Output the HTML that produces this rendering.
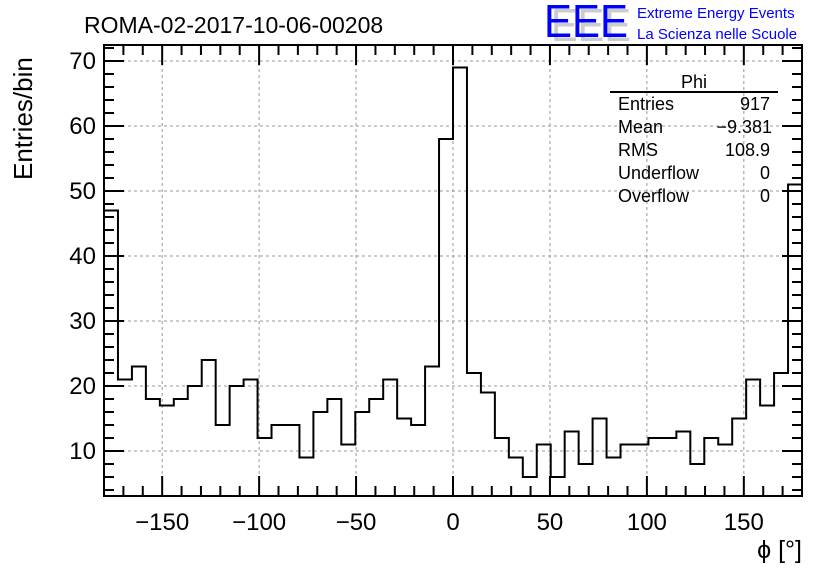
<!DOCTYPE html>
<html><head><meta charset="utf-8"><style>
body{margin:0;background:#fff;}
svg text{font-family:"Liberation Sans",sans-serif;}
</style></head><body>
<svg id="chart" width="836" height="572" viewBox="0 0 836 572" xmlns="http://www.w3.org/2000/svg">
<rect width="836" height="572" fill="#fff"/>
<g id="grid"></g>
<g id="hist"></g>
<g id="axes"></g>
<text x="84" y="33" font-size="23">ROMA-02-2017-10-06-00208</text>
<g>
<text x="551" y="41" font-size="46" fill="#ccc" textLength="80" lengthAdjust="spacingAndGlyphs">EEE</text>
<text x="544" y="37" font-size="46" fill="#0000ff" textLength="84" lengthAdjust="spacingAndGlyphs">EEE</text>
<text x="637" y="18" font-size="15" fill="#0000ff">Extreme Energy Events</text>
<text x="637" y="39" font-size="15" fill="#0000ff">La Scienza nelle Scuole</text>
</g>
<g font-size="18">
<text x="694" y="88" text-anchor="middle">Phi</text>
<line x1="610" y1="92" x2="778" y2="92" stroke="#000" stroke-width="2"/>
<text x="618" y="110">Entries</text><text x="770" y="110" text-anchor="end">917</text>
<text x="618" y="133">Mean</text><text x="772" y="133" text-anchor="end">−9.381</text>
<text x="618" y="156">RMS</text><text x="770" y="156" text-anchor="end">108.9</text>
<text x="618" y="179">Underflow</text><text x="770" y="179" text-anchor="end">0</text>
<text x="618" y="202">Overflow</text><text x="770" y="202" text-anchor="end">0</text>
</g>
<text x="0" y="0" font-size="26" transform="translate(32,180) rotate(-90)">Entries/bin</text>
<text x="802" y="558" font-size="25" text-anchor="end">ϕ [°]</text>
</svg>
<script>
const counts=[47,21,23,18,17,18,20,24,14,20,21,12,14,14,9,16,18,11,16,18,21,15,14,23,58,69,22,19,12,9,6,11,6,13,8,15,9,11,11,12,12,13,8,12,11,15,21,17,22,51];
const xTicks=[-150,-100,-50,0,50,100,150];
const yTicks=[10,20,30,40,50,60,70];
const xMin=-180,xMax=180,yMin=3.08,yMax=72.46;
const L=104,R=802,T=45,B=496;
const ns="http://www.w3.org/2000/svg";
function sx(v){return L+(v-xMin)/(xMax-xMin)*(R-L);}
function sy(v){return B-(v-yMin)/(yMax-yMin)*(B-T);}
function mk(tag,attrs,parent){const e=document.createElementNS(ns,tag);for(const k in attrs)e.setAttribute(k,attrs[k]);parent.appendChild(e);return e;}
const grid=document.getElementById('grid'),hist=document.getElementById('hist'),axes=document.getElementById('axes');
xTicks.forEach(v=>{const l=mk('line',{x1:sx(v),x2:sx(v),y1:T,y2:B,stroke:'#999','stroke-dasharray':'3,3','stroke-width':1},grid);

});
yTicks.forEach(v=>{const l=mk('line',{x1:L,x2:R,y1:sy(v),y2:sy(v),stroke:'#999','stroke-dasharray':'3,3','stroke-width':1},grid);

});
const w=(xMax-xMin)/counts.length;
let d='M'+sx(xMin)+','+B;
counts.forEach((c,i)=>{const y=sy(c);d+=' L'+sx(xMin+i*w)+','+y+' L'+sx(xMin+(i+1)*w)+','+y;});
d+=' L'+sx(xMax)+','+B;
const p=mk('path',{d:d,fill:'none',stroke:'#000','stroke-width':2},hist);


const f=mk('rect',{x:L,y:T,width:R-L,height:B-T,fill:'none',stroke:'#000','stroke-width':2},axes);


for(let v=-170;v<=170;v+=10){const maj=v%50===0;const len=maj?20:10;
mk('line',{x1:sx(v),x2:sx(v),y1:B,y2:B-len,stroke:'#000','stroke-width':2},axes);
mk('line',{x1:sx(v),x2:sx(v),y1:T,y2:T+len,stroke:'#000','stroke-width':2},axes);}
for(let v=4;v<=72;v+=2){const maj=v%10===0;const len=maj?20:10;
mk('line',{x1:L,x2:L+len,y1:sy(v),y2:sy(v),stroke:'#000','stroke-width':2},axes);
mk('line',{x1:R,x2:R-len,y1:sy(v),y2:sy(v),stroke:'#000','stroke-width':2},axes);}
xTicks.forEach(v=>{const t=mk('text',{x:sx(v),y:530,'font-size':24,'text-anchor':'middle'},axes);t.textContent=v<0?'−'+(-v):String(v);

});
yTicks.forEach(v=>{const t=mk('text',{x:96,y:sy(v)+8,'font-size':24,'text-anchor':'end'},axes);t.textContent=String(v);

});
</script>
</body></html>
